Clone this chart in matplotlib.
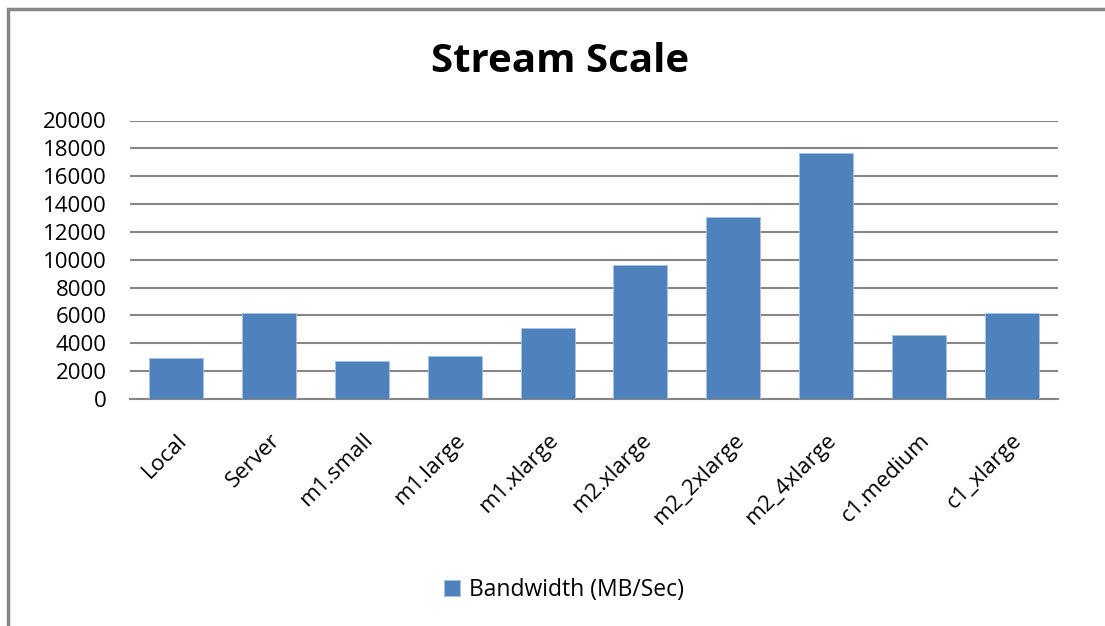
import matplotlib
matplotlib.use("Agg")
import matplotlib.pyplot as plt
from matplotlib.patches import Rectangle
import numpy as np

# data
categories = ["Local", "Server", "m1.small", "m1.large", "m1.xlarge",
              "m2.xlarge", "m2_2xlarge", "m2_4xlarge", "c1.medium", "c1_xlarge"]
bandwidth = [2930, 6160, 2760, 3070, 5100, 9600, 13050, 17680, 4580, 6160]
yticks = [0, 2000, 4000, 6000, 8000, 10000, 12000, 14000, 16000, 18000, 20000]
series_name = "Bandwidth (MB/Sec)"

plt.rcParams["font.family"] = ["Open Sans", "DejaVu Sans"]

fig = plt.figure(figsize=(11.05, 6.26), dpi=100)
ax = fig.add_axes([130 / 1105, 1 - 399 / 626, 928 / 1105, 278.5 / 626])

# outer frame (only left and top visible in the crop)
fig.patches.append(Rectangle((8 / 1105, -0.1), 1.2, 1.1 - 8.5 / 626,
                             transform=fig.transFigure, fill=False,
                             edgecolor="#868686", linewidth=2.5))

x = np.arange(len(categories))
bars = ax.bar(x, bandwidth, width=0.58, color="#4f81bd",
              edgecolor="#a9c3e3", linewidth=0.6, label=series_name, zorder=3)

ax.set_xlim(-0.5, len(categories) - 0.5)
ax.set_ylim(0, 20000)
ax.set_yticks(yticks)
ax.set_yticklabels([str(t) for t in yticks], fontsize=16)
ax.set_xticks(x)
ax.set_xticklabels(categories, rotation=45, ha="right", rotation_mode="anchor",
                   fontsize=16)
ax.tick_params(length=0)
ax.tick_params(axis="y", pad=17)
ax.tick_params(axis="x", pad=22)
ax.grid(axis="y", color="#868686", linewidth=1.5, zorder=0)
for s in ["top", "right", "left"]:
    ax.spines[s].set_visible(False)
ax.spines["bottom"].set_color("#868686")
ax.spines["bottom"].set_linewidth(1.5)

fig.text(560 / 1105, 1 - 62 / 626, "Stream Scale", ha="center", va="center",
         fontsize=29, fontweight="bold")

fig.legend(handles=[bars], labels=[series_name], loc="center",
           bbox_to_anchor=(564 / 1105, 1 - 590 / 626), frameon=False,
           fontsize=16.5, handlelength=0.7, handleheight=0.7, handletextpad=0.4)

fig.savefig("out.png", dpi=100)
